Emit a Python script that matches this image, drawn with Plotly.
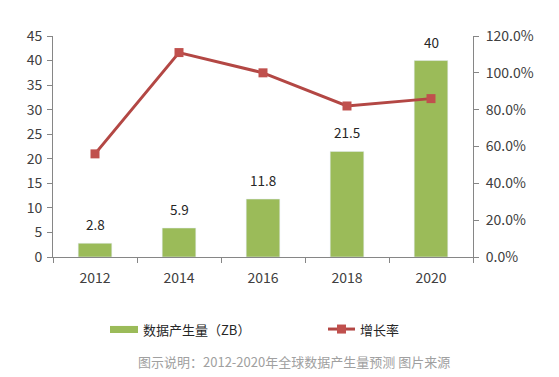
import plotly.graph_objects as go

years = [2012, 2014, 2016, 2018, 2020]
year_labels = ["2012", "2014", "2016", "2018", "2020"]
data_zb = [2.8, 5.9, 11.8, 21.5, 40]
growth = [0.56, 1.11, 1.00, 0.82, 0.86]
bar_name = "数据产生量（ZB）"
line_name = "增长率"
caption = "图示说明：2012-2020年全球数据产生量预测 图片来源"

FONT = "Noto Sans CJK SC, Noto Sans, sans-serif"
GREEN = "#9BBB59"
RED = "#C0504D"
LINE_RED = "#B34744"
AX = "#868686"

fig = go.Figure()
fig.add_trace(go.Bar(x=years, y=data_zb, name=bar_name, marker_color=GREEN,
                     width=0.8, yaxis="y", showlegend=False))
fig.add_trace(go.Scatter(x=years, y=growth, name=line_name, mode="lines+markers",
                         line=dict(color=LINE_RED, width=3),
                         marker=dict(symbol="square", size=9, color=RED),
                         yaxis="y2", showlegend=False))

# value labels above bars
for x, v in zip(years, data_zb):
    fig.add_annotation(x=x, y=v, xref="x", yref="y", text=str(v), showarrow=False,
                       yanchor="bottom", yshift=7, font=dict(size=13.5, color="#262626", family=FONT))

# manual legend
fig.add_shape(type="rect", xref="paper", yref="paper", x0=0.1357, x1=0.2024, y0=-0.344, y1=-0.312,
              fillcolor=GREEN, line_width=0)
fig.add_annotation(xref="paper", yref="paper", x=0.2095, y=-0.326, text=bar_name, showarrow=False,
                   xanchor="left", yanchor="middle", font=dict(size=13, color="#262626", family=FONT))
fig.add_shape(type="line", xref="paper", yref="paper", x0=0.6548, x1=0.719, y0=-0.326, y1=-0.326,
              line=dict(color=LINE_RED, width=3))
fig.add_shape(type="rect", xref="paper", yref="paper", x0=0.6869 - 0.0107, x1=0.6869 + 0.0107,
              y0=-0.326 - 0.0204, y1=-0.326 + 0.0204, fillcolor=RED, line_width=0)
fig.add_annotation(xref="paper", yref="paper", x=0.726, y=-0.326, text=line_name, showarrow=False,
                   xanchor="left", yanchor="middle", font=dict(size=13, color="#262626", family=FONT))
fig.add_annotation(xref="paper", yref="paper", x=0.1976, y=-0.475, text=caption, showarrow=False,
                   xanchor="left", yanchor="middle", font=dict(size=13, color="#A0A0A0", family=FONT))

TICKFONT = dict(size=14, color="#404040", family=FONT)

fig.update_layout(
    width=559, height=377,
    margin=dict(l=53, r=86, t=36, b=120, autoexpand=False),
    paper_bgcolor="white", plot_bgcolor="white",
    font=dict(family=FONT, size=13, color="#404040"),
    xaxis=dict(range=[2011, 2021], tickmode="array", tickvals=years, ticktext=year_labels,
               showline=True, linecolor=AX, linewidth=1, ticks="", automargin=False,
               ticklabelstandoff=8,
               minor=dict(ticks="outside", ticklen=5, tickcolor=AX, tick0=2011, dtick=2, showgrid=False),
               showgrid=False, zeroline=False, tickfont=TICKFONT),
    yaxis=dict(range=[0, 45], dtick=5, showline=True, linecolor=AX, linewidth=1,
               ticks="outside", ticklen=5, tickcolor=AX, showgrid=False, zeroline=False,
               ticklabelstandoff=2,
               automargin=False, tickfont=TICKFONT),
    yaxis2=dict(range=[0, 1.2], dtick=0.2, tickformat=".1%", overlaying="y", side="right",
                showline=True, linecolor=AX, linewidth=1, ticks="outside", ticklen=5,
                tickcolor=AX, showgrid=False, zeroline=False, automargin=False,
                ticklabelstandoff=4,
                tickfont=TICKFONT),
)

fig.write_html("out.html", config={"displayModeBar": False},
               post_script="document.body.style.margin='0';document.body.style.padding='0';")
